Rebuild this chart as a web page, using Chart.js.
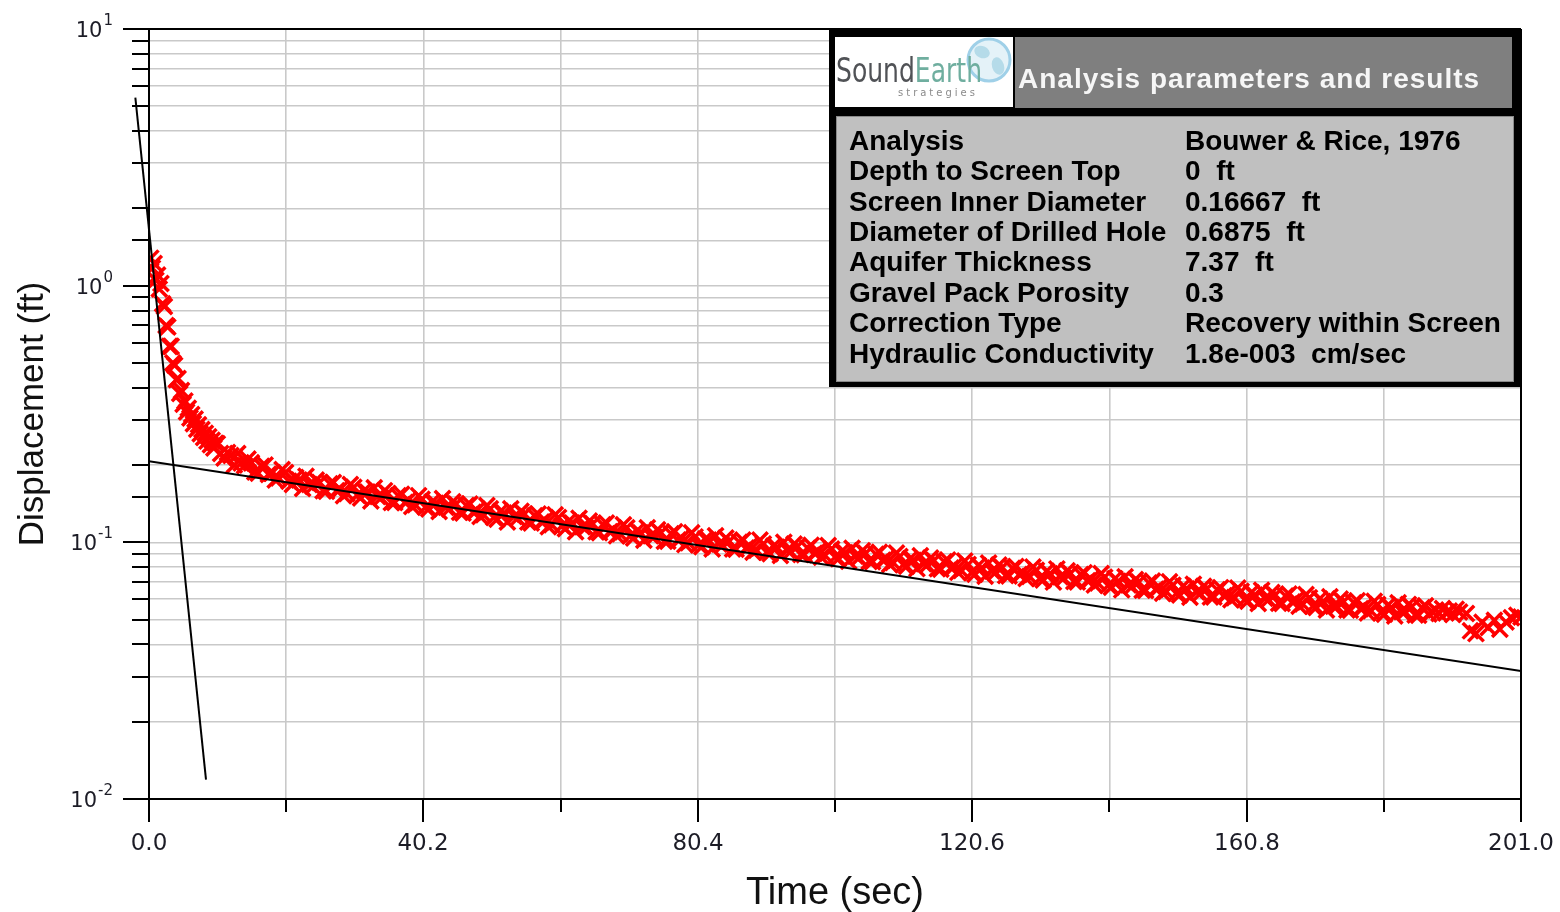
<!DOCTYPE html>
<html>
<head>
<meta charset="utf-8">
<title>Slug test recovery - Bouwer &amp; Rice</title>
<script src="https://cdn.jsdelivr.net/npm/chart.js@4.4.1/dist/chart.umd.min.js"></script>
<style>
  html, body { margin: 0; padding: 0; background: #ffffff; }
  #wrap { width: 1560px; height: 912px; position: relative; }
  canvas { display: block; }
</style>
</head>
<body>
<div id="wrap"><canvas id="chart" width="1560" height="912"></canvas></div>
<script>
// ---- Observed displacement (ft) versus elapsed time (sec) ----
// early recovery, logged every 0.25 s
const earlyTime = [0.25,0.5,0.75,1,1.25,1.5,1.75,2,2.25,2.5,2.75,3,3.25,3.5,3.75,4,4.25,4.5,4.75,5,
  5.25,5.5,5.75,6,6.25,6.5,6.75,7,7.25,7.5,7.75,8,8.25,8.5,8.75,9,9.25,9.5,9.75];
const earlyDisp = [1.28,1.17,1.22,1.05,1.10,0.97,1.02,0.85,0.83,0.70,0.69,0.58,0.58,0.50,0.49,0.43,0.435,0.38,0.39,0.345,
  0.355,0.322,0.333,0.305,0.315,0.290,0.302,0.276,0.287,0.265,0.275,0.256,0.266,0.248,0.258,0.240,0.250,0.233,0.243];

// main recovery, logged every 0.5 s
const mainTime = [
  10,10.5,11,11.5,12,12.5,13,13.5,14,14.5,15,15.5,16,16.5,17,17.5,18,18.5,19,19.5,
  20,20.5,21,21.5,22,22.5,23,23.5,24,24.5,25,25.5,26,26.5,27,27.5,28,28.5,29,29.5,
  30,30.5,31,31.5,32,32.5,33,33.5,34,34.5,35,35.5,36,36.5,37,37.5,38,38.5,39,39.5,
  40,40.5,41,41.5,42,42.5,43,43.5,44,44.5,45,45.5,46,46.5,47,47.5,48,48.5,49,49.5,
  50,50.5,51,51.5,52,52.5,53,53.5,54,54.5,55,55.5,56,56.5,57,57.5,58,58.5,59,59.5,
  60,60.5,61,61.5,62,62.5,63,63.5,64,64.5,65,65.5,66,66.5,67,67.5,68,68.5,69,69.5,
  70,70.5,71,71.5,72,72.5,73,73.5,74,74.5,75,75.5,76,76.5,77,77.5,78,78.5,79,79.5,
  80,80.5,81,81.5,82,82.5,83,83.5,84,84.5,85,85.5,86,86.5,87,87.5,88,88.5,89,89.5,
  90,90.5,91,91.5,92,92.5,93,93.5,94,94.5,95,95.5,96,96.5,97,97.5,98,98.5,99,99.5,
  100,100.5,101,101.5,102,102.5,103,103.5,104,104.5,105,105.5,106,106.5,107,107.5,108,108.5,109,109.5,
  110,110.5,111,111.5,112,112.5,113,113.5,114,114.5,115,115.5,116,116.5,117,117.5,118,118.5,119,119.5,
  120,120.5,121,121.5,122,122.5,123,123.5,124,124.5,125,125.5,126,126.5,127,127.5,128,128.5,129,129.5,
  130,130.5,131,131.5,132,132.5,133,133.5,134,134.5,135,135.5,136,136.5,137,137.5,138,138.5,139,139.5,
  140,140.5,141,141.5,142,142.5,143,143.5,144,144.5,145,145.5,146,146.5,147,147.5,148,148.5,149,149.5,
  150,150.5,151,151.5,152,152.5,153,153.5,154,154.5,155,155.5,156,156.5,157,157.5,158,158.5,159,159.5,
  160,160.5,161,161.5,162,162.5,163,163.5,164,164.5,165,165.5,166,166.5,167,167.5,168,168.5,169,169.5,
  170,170.5,171,171.5,172,172.5,173,173.5,174,174.5,175,175.5,176,176.5,177,177.5,178,178.5,179,179.5,
  180,180.5,181,181.5,182,182.5,183,183.5,184,184.5,185,185.5,186,186.5,187,187.5,188];
const mainDisp = [
  .242,.222,.213,.224,.218,.200,.222,.204,.199,.211,.204,.188,.186,.198,.200,.184,.186,.175,.178,.192,
  .187,.173,.168,.179,.175,.162,.181,.168,.165,.175,.171,.159,.158,.169,.171,.159,.161,.152,.155,.168,
  .164,.153,.149,.159,.157,.145,.163,.151,.149,.159,.155,.143,.143,.152,.154,.143,.146,.138,.140,.152,
  .147,.137,.135,.144,.142,.132,.148,.137,.135,.144,.141,.131,.130,.139,.141,.131,.133,.126,.128,.139,
  .135,.125,.123,.132,.130,.120,.135,.126,.124,.132,.129,.120,.119,.127,.129,.120,.122,.115,.117,.128,
  .125,.116,.113,.121,.119,.110,.124,.115,.114,.121,.118,.110,.109,.117,.119,.110,.112,.106,.108,.117,
  .114,.106,.104,.111,.109,.102,.114,.106,.105,.112,.109,.101,.101,.108,.110,.102,.104,.098,.0997,.109,
  .105,.0977,.0962,.103,.102,.0943,.106,.0986,.0972,.104,.101,.0943,.0940,.100,.102,.0951,.0967,.0916,.0932,.102,
  .0984,.0915,.0903,.0968,.0956,.0888,.100,.0932,.0920,.0984,.0963,.0896,.0894,.0948,.0973,.0907,.0923,.0875,.0891,.0972,
  .0942,.0876,.0863,.0923,.0910,.0844,.0948,.0882,.0869,.0928,.0906,.0843,.0840,.0899,.0914,.0851,.0865,.0820,.0834,.0909,
  .0881,.0818,.0807,.0863,.0851,.0790,.0887,.0826,.0814,.0869,.0850,.0789,.0786,.0840,.0854,.0794,.0807,.0764,.0777,.0846,
  .0819,.0761,.0751,.0813,.0795,.0738,.0830,.0773,.0763,.0816,.0798,.0742,.0740,.0792,.0805,.0750,.0763,.0723,.0736,.0802,
  .0778,.0723,.0713,.0771,.0754,.0700,.0788,.0734,.0724,.0774,.0757,.0704,.0701,.0750,.0761,.0709,.0720,.0682,.0694,.0756,
  .0731,.0679,.0669,.0722,.0705,.0653,.0734,.0682,.0672,.0717,.0700,.0651,.0649,.0694,.0706,.0657,.0668,.0633,.0644,.0702,
  .0680,.0632,.0623,.0674,.0659,.0611,.0687,.0640,.0631,.0674,.0659,.0612,.0612,.0654,.0666,.0619,.0631,.0598,.0609,.0664,
  .0644,.0598,.0590,.0638,.0623,.0578,.0650,.0605,.0597,.0637,.0623,.0579,.0578,.0618,.0629,.0585,.0596,.0564,.0575,.0626,
  .0608,.0564,.0557,.0602,.0588,.0545,.0613,.0564,.0563,.0601,.0587,.0545,.0544,.0582,.0592,.0551,.0561,.0531,.0541,.0589,
  .0572,.0532,.0525,.0569,.0557,.0517,.0582,.0537,.0536,.0573,.0561,.0521,.0520,.0556,.0566,.0526,.0536];

// sparse readings at the end of the test
const tailTime = [188.5,189,189.5,190,190.5,191,191.5,192,193,193.6,194.4,195.3,196.2,197.1,197.9,198.8,199.6,200.4,201];
const tailDisp = [.0545,.0528,.0552,.0531,.0540,.0523,.0549,.0535,.0528,.0452,.0441,.0488,.0466,.0497,.0459,.0489,.0508,.0520,.0512];

// ---- Straight-line fits (log displacement vs time) ----
const earlyFitTime = [-2.0, 8.35];
const earlyFitDisp = [5.4, 0.0119];
const lateFitTime = [0, 201];
const lateFitDisp = [0.207, 0.0315];

// ---- Axis definitions ----
const timeMin = 0, timeMax = 201, timeStep = 20.1;
const dispMin = 0.01, dispMax = 10;
const decadeValues = [10, 1, 0.1, 0.01];
const decadeExponents = ['1', '0', '-1', '-2'];

// ---- Parameter table ----
const panelTitle = 'Analysis parameters and results';
const paramNames = ['Analysis', 'Depth to Screen Top', 'Screen Inner Diameter', 'Diameter of Drilled Hole',
  'Aquifer Thickness', 'Gravel Pack Porosity', 'Correction Type', 'Hydraulic Conductivity'];
const paramValues = ['Bouwer & Rice, 1976', '0  ft', '0.16667  ft', '0.6875  ft',
  '7.37  ft', '0.3', 'Recovery within Screen', '1.8e-003  cm/sec'];

const toPoints = (xs, ys) => xs.map((v, i) => ({ x: v, y: ys[i] }));
const observed = [].concat(toPoints(earlyTime, earlyDisp), toPoints(mainTime, mainDisp), toPoints(tailTime, tailDisp));

const SANS = '"Liberation Sans", Arial, sans-serif';
const VSANS = '"DejaVu Sans", Verdana, sans-serif';

// Frame, tick marks, tick labels, axis titles and the results panel
const decorations = {
  id: 'decorations',
  afterDraw(chart) {
    const { ctx, chartArea: a, scales } = chart;
    const xs = scales.x, ys = scales.y;
    ctx.save();
    ctx.strokeStyle = '#000';
    ctx.lineWidth = 2;
    ctx.lineCap = 'butt';

    // frame
    ctx.beginPath();
    ctx.moveTo(a.left - 26, a.top); ctx.lineTo(a.right, a.top);
    ctx.moveTo(a.right, a.top); ctx.lineTo(a.right, a.bottom);
    ctx.moveTo(a.left, a.top); ctx.lineTo(a.left, a.bottom);
    ctx.moveTo(a.left - 26, a.bottom); ctx.lineTo(a.right + 1, a.bottom);
    ctx.stroke();

    // x tick marks and labels
    ctx.fillStyle = '#1c1c26';
    ctx.font = '23px ' + VSANS;
    ctx.textAlign = 'center';
    ctx.textBaseline = 'alphabetic';
    xs.ticks.forEach((t, i) => {
      const px = Math.round(xs.getPixelForValue(t.value));
      const major = i % 2 === 0;
      ctx.beginPath();
      ctx.moveTo(px, a.bottom);
      ctx.lineTo(px, a.bottom + (major ? 23 : 13));
      ctx.stroke();
      if (major) ctx.fillText(Number(t.value).toFixed(1), px, a.bottom + 51);
    });

    // y tick marks
    ys.ticks.forEach(t => {
      const lg = Math.log10(t.value);
      const decade = Math.abs(lg - Math.round(lg)) < 1e-6;
      const py = Math.round(ys.getPixelForValue(t.value));
      ctx.beginPath();
      ctx.moveTo(a.left - (decade ? 26 : 17), py);
      ctx.lineTo(a.left, py);
      ctx.stroke();
    });

    // y decade labels: 10 with a raised exponent
    const labelRight = a.left - 36;
    decadeValues.forEach((v, i) => {
      const py = ys.getPixelForValue(v);
      ctx.font = '15px ' + VSANS;
      const supW = ctx.measureText(decadeExponents[i]).width;
      ctx.textAlign = 'left';
      ctx.fillText(decadeExponents[i], labelRight - supW, py - 4);
      ctx.font = '21px ' + VSANS;
      ctx.textAlign = 'right';
      ctx.fillText('10', labelRight - supW - 1, py + 8);
    });

    // axis titles
    ctx.fillStyle = '#111';
    ctx.font = '38px ' + SANS;
    ctx.textAlign = 'center';
    ctx.textBaseline = 'alphabetic';
    ctx.fillText('Time (sec)', (a.left + a.right) / 2, 904);
    ctx.save();
    ctx.translate(43, 414);
    ctx.rotate(-Math.PI / 2);
    ctx.font = '35px ' + SANS;
    ctx.fillText('Displacement (ft)', 0, 0);
    ctx.restore();

    drawPanel(ctx);
    ctx.restore();
  }
};

function drawPanel(ctx) {
  // outer black box
  ctx.fillStyle = '#000';
  ctx.fillRect(829, 30, 692, 357);
  // logo cell
  ctx.fillStyle = '#ffffff';
  ctx.fillRect(835, 37, 178, 70);
  // title cell
  ctx.fillStyle = '#7f7f7f';
  ctx.fillRect(1015, 37, 497, 71);
  // body cell
  ctx.fillStyle = '#c0c0c0';
  ctx.fillRect(836, 116, 678, 266);
  ctx.strokeStyle = '#8a8a8a';
  ctx.lineWidth = 1;
  ctx.strokeRect(836.5, 116.5, 677, 265);

  // logo: globe
  ctx.save();
  ctx.beginPath();
  ctx.arc(989, 60, 21, 0, Math.PI * 2);
  ctx.fillStyle = '#e4f2f8';
  ctx.fill();
  ctx.lineWidth = 3;
  ctx.strokeStyle = '#9fd0e8';
  ctx.stroke();
  ctx.fillStyle = '#b5dbe9';
  ctx.beginPath(); ctx.ellipse(982, 52, 8, 6, 0.4, 0, Math.PI * 2); ctx.fill();
  ctx.beginPath(); ctx.ellipse(998, 66, 6, 9, -0.3, 0, Math.PI * 2); ctx.fill();
  ctx.restore();

  // logo: wordmark
  ctx.save();
  ctx.font = '34px "Liberation Sans Narrow", "DejaVu Sans Condensed", ' + SANS;
  ctx.textBaseline = 'alphabetic';
  ctx.textAlign = 'left';
  const wSound = ctx.measureText('Sound').width;
  const wAll = ctx.measureText('SoundEarth').width;
  const sx = 146 / wAll;
  ctx.translate(836, 82);
  ctx.scale(sx, 1);
  ctx.fillStyle = '#505256';
  ctx.fillText('Sound', 0, 0);
  ctx.fillStyle = '#6fae9f';
  ctx.fillText('Earth', wSound, 0);
  ctx.restore();
  ctx.save();
  ctx.font = '10px ' + VSANS;
  ctx.fillStyle = '#8a8a8a';
  ctx.textAlign = 'left';
  if ('letterSpacing' in ctx) ctx.letterSpacing = '3px';
  ctx.fillText('strategies', 898, 96);
  ctx.restore();

  // title text
  ctx.save();
  ctx.fillStyle = '#f6f6f6';
  ctx.font = 'bold 28px ' + SANS;
  if ('letterSpacing' in ctx) ctx.letterSpacing = '1px';
  ctx.textAlign = 'left';
  ctx.textBaseline = 'middle';
  ctx.fillText(panelTitle, 1018, 80);
  ctx.restore();

  // parameter rows
  ctx.fillStyle = '#000';
  ctx.font = 'bold 28px ' + SANS;
  ctx.textAlign = 'left';
  ctx.textBaseline = 'middle';
  paramNames.forEach((name, i) => {
    const cy = 142 + i * 30.4;
    ctx.fillText(name, 849, cy);
    ctx.fillText(paramValues[i], 1185, cy);
  });
}

const gridColor = '#c9c9c9';

new Chart(document.getElementById('chart'), {
  type: 'scatter',
  data: {
    datasets: [
      {
        label: 'Observed',
        data: observed,
        pointStyle: 'crossRot',
        pointRadius: 11,
        pointBorderWidth: 3.5,
        pointBorderColor: '#ff0000',
        pointBackgroundColor: '#ff0000',
        borderColor: '#ff0000',
        showLine: false,
        order: 2
      },
      {
        label: 'Early-time fit',
        data: toPoints(earlyFitTime, earlyFitDisp),
        showLine: true,
        borderColor: '#000',
        borderWidth: 2,
        pointRadius: 0,
        clip: false,
        order: 1
      },
      {
        label: 'Late-time fit',
        data: toPoints(lateFitTime, lateFitDisp),
        showLine: true,
        borderColor: '#000',
        borderWidth: 2,
        pointRadius: 0,
        order: 1
      }
    ]
  },
  options: {
    responsive: false,
    devicePixelRatio: 1,
    animation: false,
    layout: { padding: { left: 0, right: 39, top: 29, bottom: 0 } },
    plugins: { legend: { display: false }, tooltip: { enabled: false }, title: { display: false } },
    scales: {
      x: {
        type: 'linear',
        min: timeMin,
        max: timeMax,
        ticks: { stepSize: timeStep, display: false },
        grid: { color: gridColor, lineWidth: 1.6, drawTicks: false },
        border: { display: false },
        afterFit: s => { s.height = 113; }
      },
      y: {
        type: 'logarithmic',
        min: dispMin,
        max: dispMax,
        ticks: { display: false, autoSkip: false },
        grid: { color: gridColor, lineWidth: 1.6, drawTicks: false },
        border: { display: false },
        afterFit: s => { s.width = 149; }
      }
    }
  },
  plugins: [decorations]
});
</script>
</body>
</html>
